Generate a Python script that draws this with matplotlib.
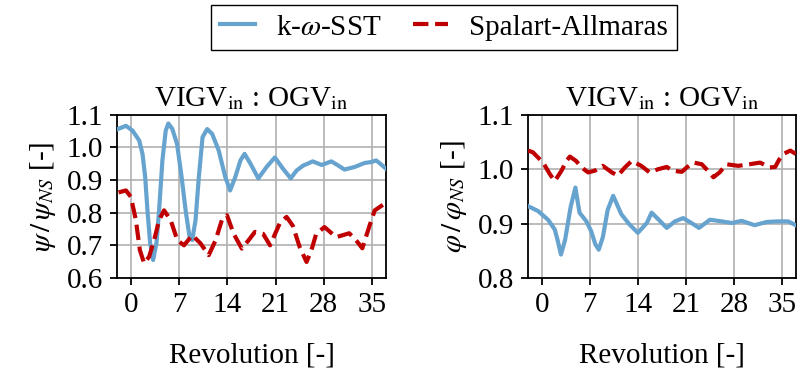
import matplotlib
matplotlib.use("Agg")
import matplotlib.pyplot as plt

plt.rcParams['font.family'] = 'serif'
plt.rcParams['font.serif'] = ['Liberation Serif', 'DejaVu Serif']
plt.rcParams['mathtext.fontset'] = 'stix'
plt.rcParams['font.size'] = 21

# psi / psi_NS (left panel)
rev_psi_sst = [-1.9, -0.72, 0.24, 1.2, 1.68, 2.07, 2.4, 2.79, 3.22, 3.7, 4.09, 4.57, 5.05,
               5.43, 6.0, 6.7, 7.36, 7.94, 8.51, 8.9, 9.38, 9.86, 10.4, 11.07, 11.8,
               12.75, 13.7, 14.4, 15.15, 15.9, 16.5, 17.3, 18.5, 19.7, 20.9, 22.1, 23.2,
               24.05, 25.0, 26.4, 27.7, 29.1, 30.06, 31.0, 32.5, 33.9, 34.9, 35.6, 36.2,
               37.0]
psi_sst = [1.056, 1.066, 1.051, 1.021, 0.980, 0.909, 0.807, 0.706, 0.655, 0.706, 0.807,
           0.960, 1.051, 1.073, 1.057, 1.010, 0.909, 0.807, 0.726, 0.716, 0.777, 0.909,
           1.031, 1.056, 1.041, 0.990, 0.909, 0.868, 0.909, 0.960, 0.980, 0.952, 0.905,
           0.940, 0.969, 0.934, 0.905, 0.929, 0.944, 0.957, 0.946, 0.957, 0.945, 0.932,
           0.940, 0.952, 0.955, 0.960, 0.950, 0.935]

rev_psi_sa = [-1.8, -0.72, 0.0, 0.72, 1.3, 1.92, 2.64, 3.37, 4.09, 4.81, 5.77, 6.73, 7.7,
              8.9, 10.1, 11.3, 12.3, 13.2, 13.95, 14.9, 16.1, 17.1, 18.0, 19.2, 20.2,
              21.6, 22.6, 23.5, 24.5, 25.5, 26.2, 26.9, 28.1, 29.8, 31.7, 32.9, 33.6,
              34.6, 35.4, 37.0]
psi_sa = [0.862, 0.868, 0.848, 0.777, 0.685, 0.645, 0.665, 0.716, 0.777, 0.807, 0.777,
          0.716, 0.700, 0.731, 0.706, 0.670, 0.716, 0.777, 0.792, 0.736, 0.690, 0.716,
          0.741, 0.735, 0.700, 0.767, 0.787, 0.760, 0.695, 0.649, 0.685, 0.735, 0.756,
          0.725, 0.737, 0.710, 0.691, 0.757, 0.807, 0.830]

# phi / phi_NS (right panel)
rev_phi_sst = [-2.0, -0.54, 0.92, 1.9, 2.3, 2.8, 3.4, 4.2, 4.9, 5.5, 6.5, 7.2, 7.8, 8.3,
               8.9, 9.6, 10.4, 11.6, 12.8, 14.0, 15.3, 16.0, 17.2, 18.2, 19.4, 20.6,
               21.8, 22.9, 24.5, 26.2, 27.7, 29.1, 31.0, 32.8, 34.5, 35.9, 37.0]
phi_sst = [0.932, 0.923, 0.907, 0.889, 0.870, 0.843, 0.870, 0.930, 0.966, 0.920, 0.904,
           0.886, 0.862, 0.852, 0.875, 0.925, 0.951, 0.917, 0.898, 0.883, 0.901, 0.920,
           0.905, 0.892, 0.904, 0.910, 0.901, 0.892, 0.907, 0.904, 0.901, 0.905, 0.897,
           0.903, 0.904, 0.904, 0.897]

rev_phi_sa = [-2.0, -1.3, 0.2, 1.17, 1.9, 2.87, 3.6, 4.1, 5.0, 5.8, 6.75, 7.7, 8.9, 10.2,
              11.1, 12.1, 13.1, 14.5, 15.7, 17.0, 18.2, 19.1, 20.4, 21.1, 22.1, 23.3,
              24.2, 25.0, 25.9, 26.9, 28.6, 30.3, 31.8, 33.2, 34.0, 34.6, 35.2, 36.2,
              37.0]
phi_sa = [1.034, 1.031, 1.012, 0.991, 0.978, 0.997, 1.015, 1.023, 1.015, 1.003, 0.994,
          0.997, 1.006, 0.994, 0.988, 1.003, 1.015, 1.006, 0.994, 1.000, 1.004, 0.997,
          0.995, 1.003, 1.012, 1.009, 0.997, 0.985, 0.994, 1.009, 1.006, 1.009, 1.012,
          1.003, 1.004, 1.018, 1.028, 1.034, 1.028]

xticks = [0, 7, 14, 21, 28, 35]
blue = '#67a3cf'
red = '#c00000'

fig = plt.figure(figsize=(7.97, 3.78), dpi=100)
ax1 = fig.add_axes([0.147, 0.2646, 0.337, 0.432])
ax2 = fig.add_axes([0.6625, 0.2646, 0.336, 0.432])

panels = [
    (ax1, rev_psi_sst, psi_sst, rev_psi_sa, psi_sa, (0.6, 1.1),
     [0.6, 0.7, 0.8, 0.9, 1.0, 1.1], r'$\psi\,/\,\psi_{NS}$ [-]'),
    (ax2, rev_phi_sst, phi_sst, rev_phi_sa, phi_sa, (0.8, 1.1),
     [0.8, 0.9, 1.0, 1.1], r'$\varphi\,/\,\varphi_{NS}$ [-]'),
]

for ax, xs, ys, xa, ya, ylim, yt, ylab in panels:
    ax.plot(xs, ys, color=blue, lw=3, label=r'k-$\omega$-SST', zorder=3,
            solid_joinstyle='round')
    ax.plot(xa, ya, color=red, lw=3, ls='--', label='Spalart-Allmaras', zorder=3)
    ax.set_xlim(-2, 37)
    ax.set_ylim(*ylim)
    ax.set_xticks(xticks)
    ax.set_yticks(yt)
    ax.set_yticklabels([f'{v:.1f}' for v in yt])
    ax.grid(True, color='#b0b0b0', lw=1.2)
    ax.set_axisbelow(True)
    for s in ax.spines.values():
        s.set_linewidth(1.3)
    ax.tick_params(direction='out', length=5, width=1.3, labelsize=21, pad=5)
    ax.set_xlabel('Revolution [-]', labelpad=18)
    ax.set_ylabel(ylab, labelpad=6)
    ax.set_title(r'VIGV$_{\mathrm{in}}$ : OGV$_{\mathrm{in}}$', fontsize=21, pad=6)

h, l = ax1.get_legend_handles_labels()
fig.legend(h, l, loc='upper center', bbox_to_anchor=(0.557, 0.987), ncol=2,
           frameon=True, fancybox=False, edgecolor='black', framealpha=1,
           handlelength=1.2, handletextpad=0.7, columnspacing=1.1,
           borderpad=0.32, borderaxespad=0, fontsize=21)

fig.savefig('out.png', dpi=100)
